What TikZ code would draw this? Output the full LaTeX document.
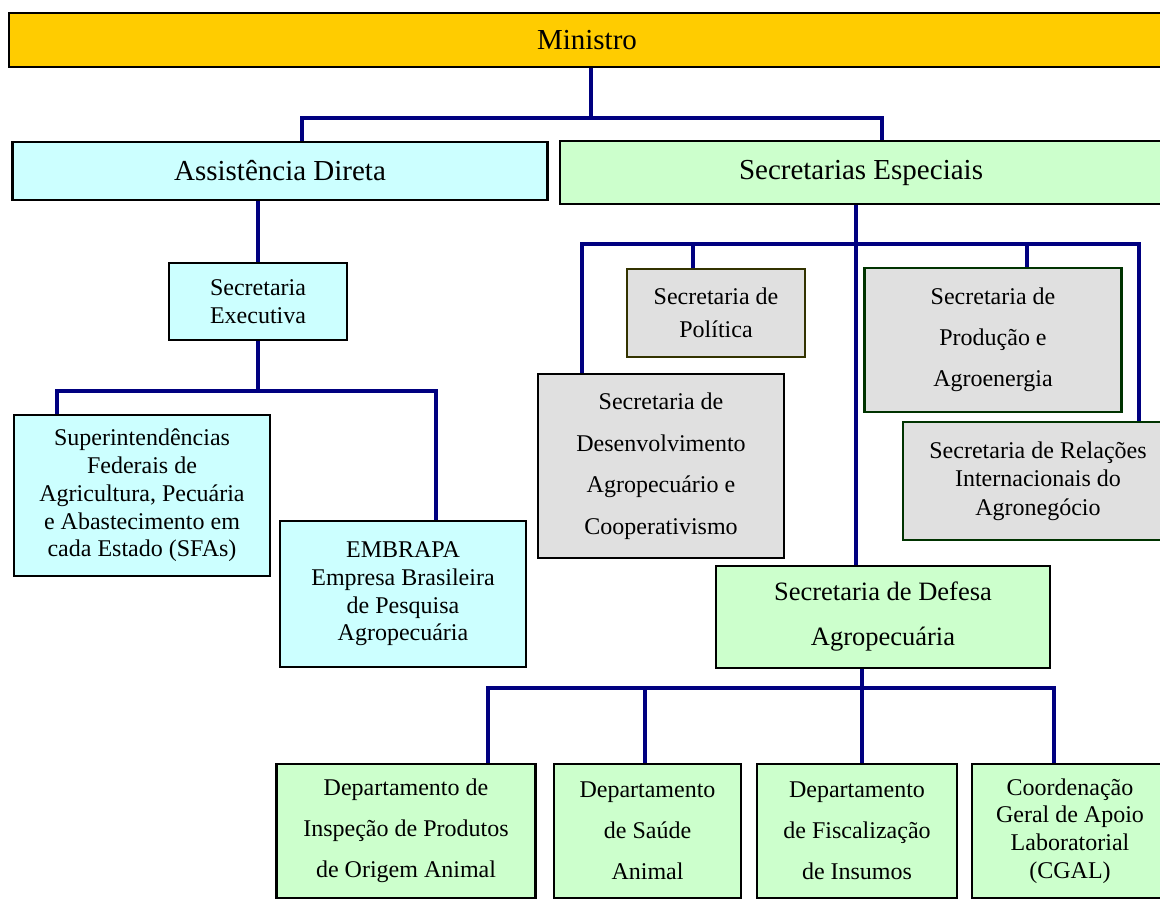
\documentclass[tikz,border=0pt]{standalone}
\usepackage{fontspec}
\setmainfont{Liberation Serif}
\usepackage{tikz}
\usetikzlibrary{positioning}

\definecolor{ouro}{HTML}{FFCC00}
\definecolor{ciano}{HTML}{CCFFFF}
\definecolor{verde}{HTML}{CCFFCC}
\definecolor{cinza}{HTML}{E0E0E0}
\definecolor{marinho}{HTML}{000080}
\definecolor{oliva}{HTML}{333300}
\definecolor{musgo}{HTML}{003300}

\begin{document}
\begin{tikzpicture}[
  x=1bp, y=-1bp,
  box/.style={draw, line width=2.5bp, inner sep=0pt, align=center},
  topbox/.style={box, fill=ouro},
  bluebox/.style={box, fill=ciano},
  greenbox/.style={box, fill=verde},
  greybox/.style={box, fill=cinza},
  big/.style={font=\fontsize{29bp}{34bp}\selectfont},
  tight/.style={font=\fontsize{24bp}{27.7bp}\selectfont},
  loose/.style={font=\fontsize{24bp}{41bp}\selectfont},
  link/.style={draw=marinho, line width=4bp}
]
\useasboundingbox (0,0) rectangle (1160,900);

\node[topbox, big, minimum width=1156bp, minimum height=54bp] (mini) at (587,40) {Ministro};
\node[bluebox, big, minimum width=535bp, minimum height=58bp] (asd) at (280,171) {Assistência Direta};
\node[greenbox, big, minimum width=602bp, minimum height=63bp] (sesp) at (861,172.5) {Secretarias Especiais};

\node[bluebox, font=\fontsize{24bp}{28bp}\selectfont, minimum width=178bp, minimum height=77bp] (sexe) at (258,301.5) {Secretaria\\Executiva};
\node[bluebox, tight, minimum width=256bp, minimum height=161bp] (sfa) at (142,495.5)
  {Superintendências\\Federais de\\Agricultura, Pecuária\\e Abastecimento em\\cada Estado (SFAs)};
\node[bluebox, tight, minimum width=246bp, minimum height=146bp] (embr) at (403,594)
  {EMBRAPA\\Empresa Brasileira\\de Pesquisa\\Agropecuária};

\node[greybox, draw=oliva, font=\fontsize{24bp}{33bp}\selectfont, minimum width=178bp, minimum height=88bp] (spol) at (716,313) {Secretaria de\\Política};
\node[greybox, draw=musgo, loose, minimum width=257bp, minimum height=144bp] (sprod) at (993,340) {Secretaria de\\Produção e\\Agroenergia};
\node[greybox, font=\fontsize{24bp}{41.5bp}\selectfont, minimum width=246bp, minimum height=184bp] (sdes) at (661,466)
  {Secretaria de\\Desenvolvimento\\Agropecuário e\\Cooperativismo};
\node[greybox, draw=musgo, font=\fontsize{24bp}{28.3bp}\selectfont, minimum width=270bp, minimum height=118bp] (srel) at (1038,481)
  {Secretaria de Relações\\Internacionais do\\Agronegócio};
\node[greenbox, font=\fontsize{26.5bp}{45bp}\selectfont, minimum width=334bp, minimum height=102bp] (defe) at (883,617)
  {Secretaria de Defesa\\Agropecuária};

\node[greenbox, loose, minimum width=259bp, minimum height=134bp] (dep1) at (406,831) {Departamento de\\Inspeção de Produtos\\de Origem Animal};
\node[greenbox, loose, minimum width=187bp, minimum height=134bp] (dep2) at (647.5,831) {Departamento\\de Saúde\\Animal};
\node[greenbox, loose, minimum width=200bp, minimum height=134bp] (dep3) at (857,831) {Departamento\\de Fiscalização\\de Insumos};
\node[greenbox, tight, minimum width=196bp, minimum height=134bp] (dep4) at (1070,831) {Coordenação\\Geral de Apoio\\Laboratorial\\(CGAL)};

% barramentos
\coordinate (jm) at (591,118);
\coordinate (ja) at (302,118);
\coordinate (jb) at (882,118);
\coordinate (jx1) at (57,391);
\coordinate (jx2) at (436,391);
\coordinate (je1) at (582,244);
\coordinate (je2) at (693,244);
\coordinate (je3) at (1027,244);
\coordinate (je4) at (1139,244);
\coordinate (jec) at (856,244);
\coordinate (jd1) at (488,688);
\coordinate (jd2) at (645,688);
\coordinate (jd3) at (862,688);
\coordinate (jd4) at (1054,688);

\draw[link] (mini.south -| jm) -- (jm);
\draw[link] (ja |- asd.north) -- (ja) -- (jb) -- (jb |- sesp.north);
\draw[link] (asd.south -| sexe.north) -- (sexe.north);
\draw[link] (sexe.south) -- (sexe.south |- jx1);
\draw[link] (jx1 |- sfa.north) -- (jx1) -- (jx2) -- (jx2 |- embr.north);
\draw[link] (sesp.south -| jec) -- (defe.north -| jec);
\draw[link] (je1 |- sdes.north) -- (je1) -- (je4) -- (je4 |- srel.north);
\draw[link] (je2) -- (je2 |- spol.north);
\draw[link] (je3) -- (je3 |- sprod.north);
\draw[link] (defe.south -| jd3) -- (jd3 |- dep3.north);
\draw[link] (jd1 |- dep1.north) -- (jd1) -- (jd4) -- (jd4 |- dep4.north);
\draw[link] (jd2) -- (jd2 |- dep2.north);
\end{tikzpicture}
\end{document}
